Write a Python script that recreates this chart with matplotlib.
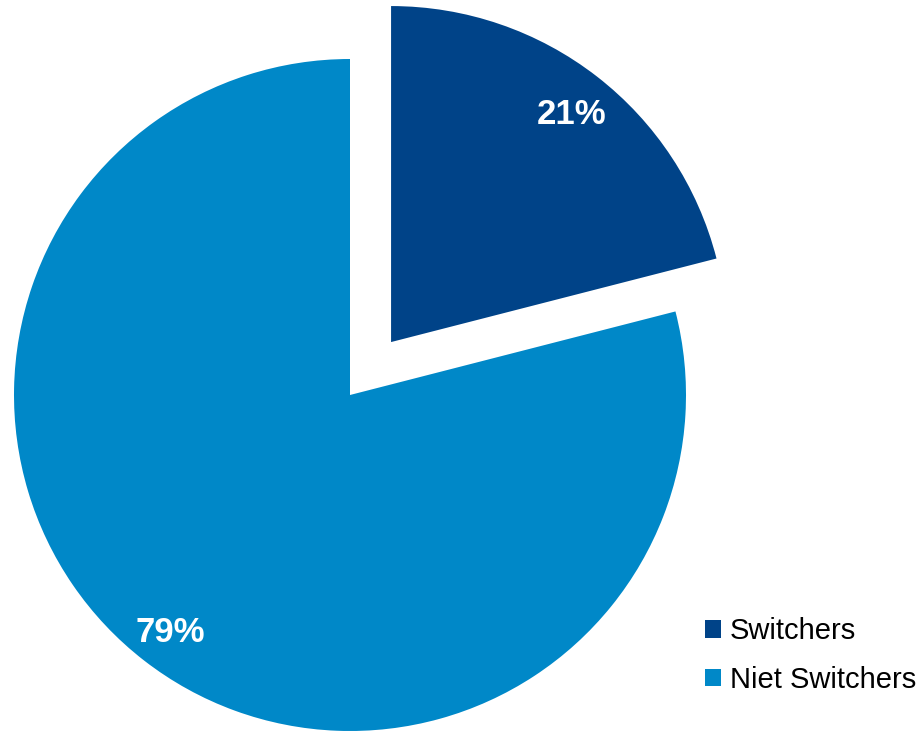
import matplotlib.pyplot as plt
from matplotlib.patches import Patch

# data
labels = ['Switchers', 'Niet Switchers']
shares = [21, 79]
colors = ['#004388', '#0088C8']
explode = [67, 0]  # absolute offset, pie is drawn in pixel units

plt.rcParams['font.family'] = ['Liberation Sans', 'DejaVu Sans']

fig = plt.figure(figsize=(9.19, 7.31), dpi=100)
ax = fig.add_axes([0, 0, 1, 1])

# pie in pixel-like coordinates
wedges, texts, autotexts = ax.pie(
    shares, colors=colors, explode=explode, startangle=90, counterclock=False,
    radius=336, center=(350, 336), autopct='%d%%', pctdistance=0.875,
    wedgeprops=dict(linewidth=0), textprops=dict(color='white', fontsize=25, fontweight='bold'),
    frame=True)

# nudge percentage labels down a little
for t in autotexts:
    x, y = t.get_position()
    t.set_position((x, y - 5))

ax.set_xlim(0, 919)
ax.set_ylim(0, 731)
ax.set_aspect('equal')
ax.axis('off')

handles = [Patch(facecolor=c, edgecolor='none') for c in colors]
fig.legend(handles, labels, loc='lower right', bbox_to_anchor=(1.013, 0.031),
           frameon=False, fontsize=21, handlelength=0.55, handleheight=0.55,
           handletextpad=0.3, labelspacing=0.7, borderaxespad=0.1)

fig.savefig('out.png', dpi=100)
